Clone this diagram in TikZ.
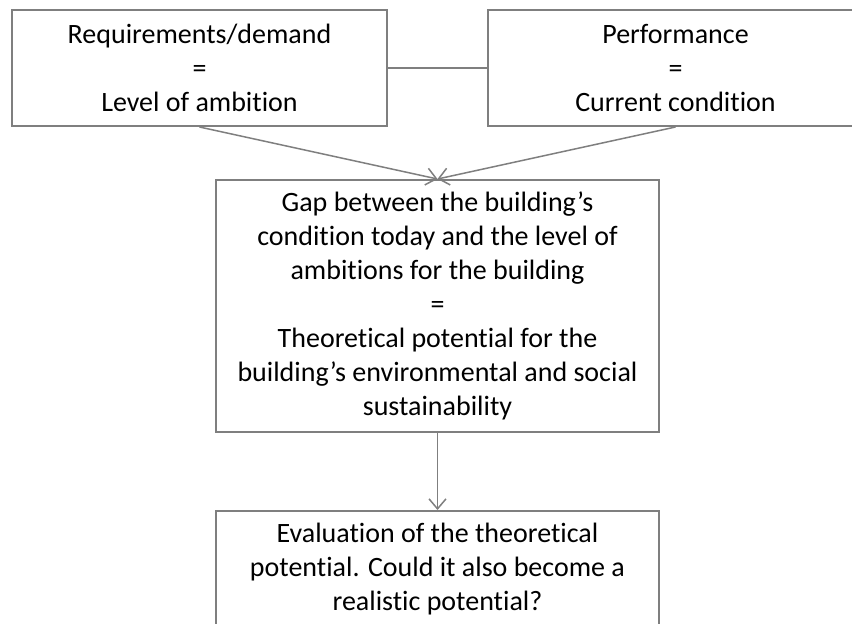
\documentclass[tikz,border=0pt]{standalone}
\usepackage{fontspec}
\setmainfont{Carlito}[Ligatures=NoCommon]
\usetikzlibrary{arrows.meta}
\definecolor{linegray}{HTML}{7F7F7F}
\tikzset{
  box/.style={draw=linegray, line width=2pt, fill=white, align=center,
    inner sep=0pt, font=\fontsize{28}{34}\selectfont, text=black},
  link/.style={draw=linegray, line width=1.5pt},
  flow/.style={link, -{Straight Barb[length=10pt,width=17pt,line width=1.5pt]}}
}
\begin{document}
\begin{tikzpicture}[x=1pt,y=-1pt]
  \useasboundingbox (0,0) rectangle (852,624);
  \clip (0,0) rectangle (852,624);
  % two inputs on top
  \node[box, minimum width=375pt, minimum height=116pt] (demand) at (199.5,68)
    {Requirements/demand\\=\\Level of ambition};
  \node[box, minimum width=375pt, minimum height=116pt] (perf) at (675.5,68)
    {Performance\\=\\Current condition};
  % the gap between them
  \node[box, minimum width=443pt, minimum height=252pt] (gap) at (437.5,306)
    {Gap between the building’s\\condition today and the level of\\ambitions for the building\\=\\Theoretical potential for the\\building’s environmental and social\\sustainability};
  % evaluation step
  \node[box, minimum width=443pt, minimum height=116pt] (eval) at (437.5,569)
    {Evaluation of the theoretical\\potential. Could it also become a\\realistic potential?};
  % connectors
  \draw[link] (demand.east) -- (perf.west);
  \draw[flow] (demand.south) -- (gap.north);
  \draw[flow] (perf.south) -- (gap.north);
  \draw[flow] (gap.south) -- (eval.north);
\end{tikzpicture}
\end{document}
